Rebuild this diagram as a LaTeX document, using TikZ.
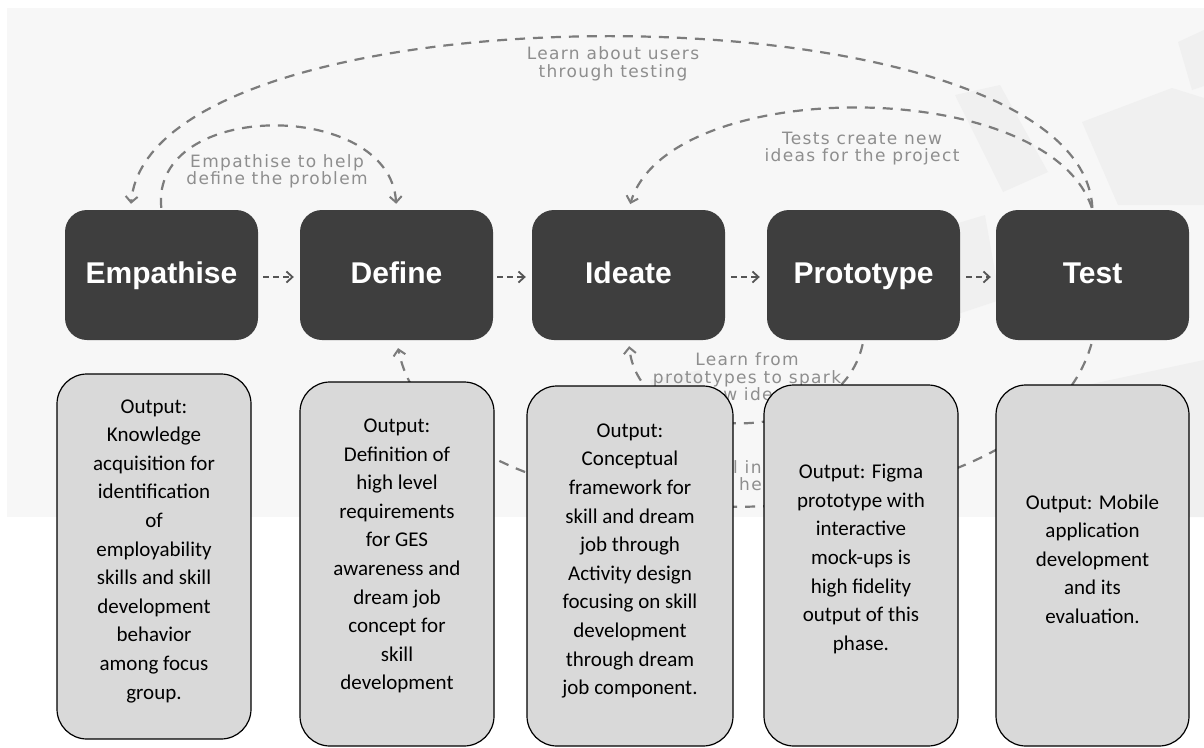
\documentclass[tikz,border=0pt]{standalone}
\usepackage{fontspec}
\setmainfont{Carlito}
\newfontfamily\phasefont{Liberation Sans}
\newfontfamily\lblfont{DejaVu Sans}[LetterSpace=8]
\usetikzlibrary{arrows.meta}
\definecolor{bgc}{HTML}{F7F7F7}
\definecolor{wmc}{HTML}{F0F0F0}
\definecolor{phasec}{HTML}{3E3E3E}
\definecolor{outg}{HTML}{D9D9D9}
\definecolor{dashc}{HTML}{7C7C7C}
\definecolor{lblc}{HTML}{8E8E8E}
\definecolor{sarrowc}{HTML}{555555}
\begin{document}
\begin{tikzpicture}[x=1pt,y=-1pt,
  phase/.style={fill=phasec, rounded corners=22pt, minimum width=193pt, minimum height=130pt, inner sep=0pt, text=white, text height=22pt, text depth=6pt, font=\phasefont\bfseries\fontsize{30}{36}\selectfont},
  outbox/.style={draw=black, line width=1.2pt, fill=outg, rounded corners=30pt, inner sep=0pt},
  outtext/.style={align=center, font=\fontsize{21}{28.6}\selectfont, inner sep=0pt},
  lbl/.style={align=center, text=lblc, font=\lblfont\fontsize{17}{17.5}\selectfont, inner sep=0pt},
  loopline/.style={draw=dashc, line width=2.2pt, dash pattern=on 10pt off 8pt, -{Straight Barb[length=6pt,width=12pt,line width=2pt]}},
  steparrow/.style={draw=sarrowc, line width=1.8pt, dash pattern=on 6pt off 4pt, -{Straight Barb[length=6pt,width=11pt,line width=1.8pt]}}
]
\useasboundingbox (0,0) rectangle (1204,747);
\fill[white] (0,0) rectangle (1204,747);
% background panel
\fill[bgc] (7,8) rectangle (1204,517);
% faint watermark
\fill[wmc] (955,95) -- (1000,85) -- (1048,172) -- (1003,192) -- cycle;
\fill[wmc] (1082,122) -- (1172,88) -- (1204,98) -- (1204,205) -- (1118,205) -- cycle;
\fill[wmc] (1178,42) -- (1204,30) -- (1204,86) -- (1192,90) -- cycle;
\fill[wmc] (1040,395) -- (1204,360) -- (1204,517) -- (1085,517) -- cycle;
\fill[wmc] (935,230) -- (985,215) -- (1000,300) -- (955,315) -- cycle;
\fill[wmc] (650,380) -- (700,370) -- (720,440) -- (670,450) -- cycle;

% labels (drawn under boxes)
\node[lbl] (lempdef) at (277,171.5) {Empathise to help\\define the problem};
\node[lbl] (lusers) at (613,64) {Learn about users\\through testing};
\node[lbl] (ltests) at (862,148.5) {Tests create new\\ideas for the project};
\node[lbl] (lproto) at (747,377) {Learn from\\prototypes to spark\\new ideas};
\node[lbl, anchor=west] (lrev1) at (733,467) {l in};
\node[lbl, anchor=west] (lrev2) at (739,484) {he};

% phase boxes
\node[phase] (emp) at (161.5,275) {Empathise};
\node[phase] (def) at (396.5,275) {Define};
\node[phase] (ide) at (628.5,275) {Ideate};
\node[phase] (pro) at (863.5,275) {Prototype};
\node[phase] (tst) at (1092.5,275) {Test};

% step arrows
\draw[steparrow, shorten <=5pt, shorten >=6pt] ([yshift=-2pt]emp.east) -- ([yshift=-2pt]def.west);
\draw[steparrow, shorten <=4pt, shorten >=6pt] ([yshift=-2pt]def.east) -- ([yshift=-2pt]ide.west);
\draw[steparrow, shorten <=6pt, shorten >=7pt] ([yshift=-2pt]ide.east) -- ([yshift=-2pt]pro.west);
\draw[steparrow, shorten <=6pt, shorten >=5pt] ([yshift=-2pt]pro.east) -- ([yshift=-2pt]tst.west);

% loop connectors
\draw[loopline, shorten <=2pt, shorten >=6pt] (tst.north) .. controls (1080,-20) and (150,-20) .. ([xshift=-31pt]emp.north);
\draw[loopline, shorten <=2pt, shorten >=6pt] (emp.north) .. controls (150,99) and (390,99) .. (def.north);
\draw[loopline, shorten <=2pt, shorten >=6pt] (tst.north) .. controls (1048,75) and (669,75) .. (ide.north);
\draw[loopline, shorten <=4pt, shorten >=6pt] (pro.south) .. controls (840,449) and (640,449) .. (ide.south);
\draw[loopline, shorten <=4pt, shorten >=8pt] (tst.south) .. controls (1030,560) and (440,560) .. (def.south);

% output boxes
\node[outbox, minimum width=194pt, minimum height=365pt] (o1) at (154,556.5) {};
\node[outbox, minimum width=194pt, minimum height=364pt] (o2) at (397,564) {};
\node[outbox, minimum width=206pt, minimum height=360pt] (o3) at (630,566) {};
\node[outbox, minimum width=194pt, minimum height=361pt] (o4) at (861,565.5) {};
\node[outbox, minimum width=193pt, minimum height=361pt] (o5) at (1092.5,565.5) {};

\node[outtext] (t1) at (154,551) {Output:\\Knowledge\\acquisition for\\identification\\of\\employability\\skills and skill\\development\\behavior\\among focus\\group.};
\node[outtext] (t2) at (397,556) {Output:\\Definition of\\high level\\requirements\\for GES\\awareness and\\dream job\\concept for\\skill\\development};
\node[outtext] (t3) at (630,561) {Output:\\Conceptual\\framework for\\skill and dream\\job through\\Activity design\\focusing on skill\\development\\through dream\\job component.};
\node[outtext] (t4) at (861,559) {Output: Figma\\prototype with\\interactive\\mock-ups is\\high fidelity\\output of this\\phase.};
\node[outtext] (t5) at (1092.5,559) {Output: Mobile\\application\\development\\and its\\evaluation.};
\end{tikzpicture}
\end{document}
